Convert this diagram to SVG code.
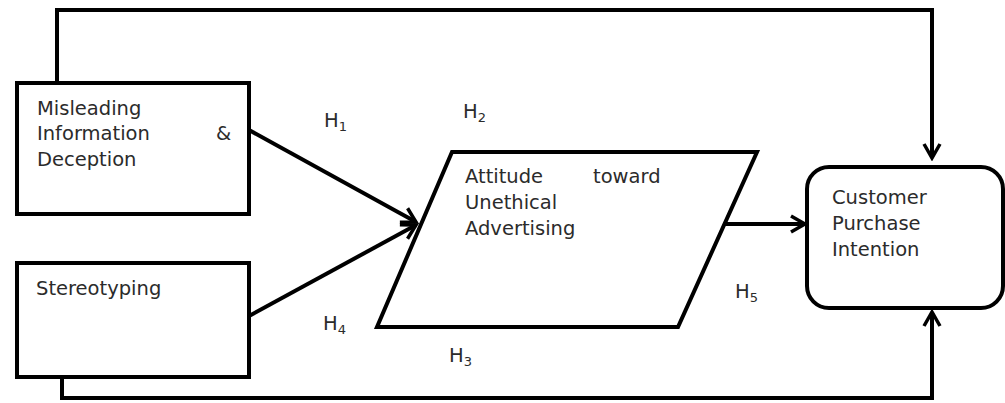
<svg xmlns="http://www.w3.org/2000/svg" width="1005" height="403" viewBox="0 0 1005 403">
<defs>
<marker id="ah2" viewBox="0 0 20 20" refX="17" refY="10" markerWidth="20" markerHeight="20" markerUnits="userSpaceOnUse" orient="auto">
<path d="M3,2 L17,10 L3,18" fill="none" stroke="#000" stroke-width="3.5"/>
</marker>
</defs>
<style>
.n{fill:#fff;stroke:#000;stroke-width:4}
.c{fill:none;stroke:#000;stroke-width:4}
text{font-family:"DejaVu Sans",Verdana,sans-serif;font-size:19.5px;fill:#2b2b2b}
.s{font-size:13px}
</style>
<rect width="1005" height="403" fill="#fff"/>
<g id="connectors">
<path class="c" d="M57,83 V10 H932 V158" marker-end="url(#ah2)"/>
<path class="c" d="M62,377 V398 H932 V312" marker-end="url(#ah2)"/>
<path class="c" d="M249,130 L416,222" marker-end="url(#ah2)"/>
<path class="c" d="M249,316 L416,225" marker-end="url(#ah2)"/>
<path class="c" d="M718,224 L805,224" marker-end="url(#ah2)"/>
</g>
<g id="misleading">
<rect class="n" x="17" y="83" width="232" height="131"/>
<text x="37" y="115">Misleading</text>
<text x="37" y="140">Information</text>
<text x="216" y="140">&amp;</text>
<text x="37" y="166">Deception</text>
</g>
<g id="stereotyping">
<rect class="n" x="17" y="263" width="232" height="114"/>
<text x="36" y="295">Stereotyping</text>
</g>
<g id="attitude">
<polygon class="n" points="452,152 757,152 678,327 377,327"/>
<text x="465" y="183">Attitude</text>
<text x="593" y="183">toward</text>
<text x="465" y="209">Unethical</text>
<text x="465" y="235">Advertising</text>
</g>
<g id="intention">
<rect class="n" x="807" y="167" width="196" height="141" rx="22"/>
<text x="832" y="204">Customer</text>
<text x="832" y="230">Purchase</text>
<text x="832" y="256">Intention</text>
</g>
<g id="labels">
<text x="324" y="127">H<tspan class="s" dy="4">1</tspan></text>
<text x="463" y="118">H<tspan class="s" dy="4">2</tspan></text>
<text x="449" y="362">H<tspan class="s" dy="4">3</tspan></text>
<text x="323" y="330">H<tspan class="s" dy="4">4</tspan></text>
<text x="735" y="298">H<tspan class="s" dy="4">5</tspan></text>
</g>
</svg>
